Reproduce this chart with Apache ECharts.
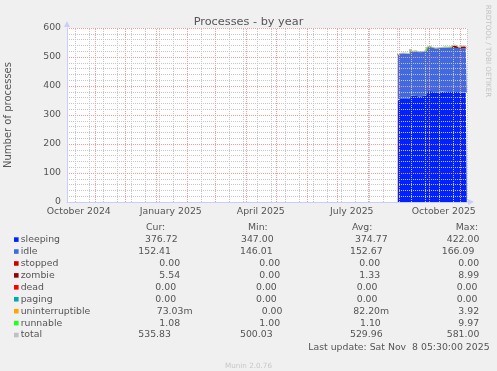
<!DOCTYPE html>
<html><head><meta charset="utf-8">
<script src="https://cdn.jsdelivr.net/npm/echarts@6/dist/echarts.min.js"></script>
<style>html,body{margin:0;padding:0;background:#F0F0F0}#c{width:497px;height:371px}</style>
</head><body><div id="c"></div>
<script>
// ---- data ----
const dates = ['2025-08-31',
 '2025-09-01','2025-09-02','2025-09-03','2025-09-04','2025-09-05','2025-09-06','2025-09-07','2025-09-08','2025-09-09','2025-09-10',
 '2025-09-11','2025-09-12','2025-09-13','2025-09-14','2025-09-15','2025-09-16','2025-09-17','2025-09-18','2025-09-19','2025-09-20',
 '2025-09-21','2025-09-22','2025-09-23','2025-09-24','2025-09-25','2025-09-26','2025-09-27','2025-09-28','2025-09-29','2025-09-30',
 '2025-10-01','2025-10-02','2025-10-03','2025-10-04','2025-10-05','2025-10-06','2025-10-07','2025-10-08','2025-10-09','2025-10-10',
 '2025-10-11','2025-10-12','2025-10-13','2025-10-14','2025-10-15','2025-10-16','2025-10-17','2025-10-18','2025-10-19','2025-10-20',
 '2025-10-21','2025-10-22','2025-10-23','2025-10-24','2025-10-25','2025-10-26','2025-10-27','2025-10-28','2025-10-29','2025-10-30','2025-10-31',
 '2025-11-01','2025-11-02','2025-11-03','2025-11-04','2025-11-05','2025-11-06','2025-11-07','2025-11-08'];
const sleeping = [350,
 355,356,357,355,356,358,357,356,358,357,359,356,
 364,365,366,364,365,367,366,365,364,366,367,365,366,368,366,365,367,
 380,
 382,386,384,381,380,379,378,379,378,377,378,379,380,379,380,381,380,379,380,381,380,381,382,381,380,381,380,379,381,380,379,
 378,380,379,378,380,379,378,377];
const idle = [156,
 155,154,155,156,154,155,156,155,154,155,156,155,
 162,154,153,152,153,154,153,152,153,154,153,152,153,154,153,152,153,
 153,
 152,151,152,153,152,151,152,151,152,153,152,151,152,153,152,151,152,153,152,151,152,153,152,151,152,151,152,153,152,151,152,
 153,152,151,152,153,152,151,152];
const stopped = [0,0,0,0,0,0,0,0,0,0, 0,0,0,0,0,0,0,0,0,0, 0,0,0,0,0,0,0,0,0,0, 0,0,0,0,0,0,0,0,0,0, 0,0,0,0,0,0,0,0,0,0, 0,0,0,0,0,0,0,0,0,0, 0,0,0,0,0,0,0,0,0,0];
const zombie = [0,0,0,0,0,0,0,0,0,0, 0,0,0,0,0,0,0,0,0,0, 0,0,0,0,0,0,0,0,0,0, 0,0,0,0,0,0,0,0,0,0, 0,0,0,0,0,0,0,0,0,0, 0,0,0,0,0,7,8,9,7,6, 7,6,1,6,7,6,7,6,6,5.5];
const dead = [0,0,0,0,0,0,0,0,0,0, 0,0,0,0,0,0,0,0,0,0, 0,0,0,0,0,0,0,0,0,0, 0,0,0,0,0,0,0,0,0,0, 0,0,0,0,0,0,0,0,0,0, 0,0,0,0,0,0,0,0,0,0, 0,0,0,0,0,0,0,0,0,0];
const paging = [0,0,0,0,0,0,0,0,0,0, 0,0,0,0,0,0,0,0,0,0, 0,0,0,0,0,0,0,0,0,0, 0,0,0,0,0,0,0,0,0,0, 0,0,0,0,0,0,0,0,0,0, 0,0,0,0,0,0,0,0,0,0, 0,0,0,0,0,0,0,0,0,0];
const uninterruptible = [0,0,0,0,0,0,0,0,0,0, 0,0,0,0,0,0,0,0,0,0, 2,0,0,0,0,0,0,0,0,0, 0,0,0,0,0,0,0,0,0,0, 0,0,0,0,0,0,0,2,0,0, 0,0,0,0,0,0,0,0,0,0, 1.5,0,0,0,0,0,0,0,0,0];
const runnable = [1,1,1,1,1,2,1,1,1,1, 1,1,1,1,2,1,1,1,1,1, 1,1,2,1,1,1,1,1,1,1, 1,1,1,2,1,1,1,1,1,1, 1,2,1,1,1,1,1,1,1,1, 2,1,1,1,1,1,1,1,2,1, 1,1,1,1,1,1,1,1,1,1];
const total = [507,
 511,511,513,512,512,514,514,512,513,513,516,512,
 527,521,520,517,519,522,520,520,518,522,521,518,520,523,520,518,521,
 534,
 535,538,538,535,533,531,531,531,531,531,532,531,533,533,533,533,535,533,533,534,533,535,535,533,540,541,542,541,540,540.5,538,
 533,539,538,537,541,538,536,535.5];

const seriesNames = ['sleeping','idle','stopped','zombie','dead','paging','uninterruptible','runnable','total'];
const curVals = ['376.72','152.41','0.00','5.54','0.00','0.00','73.03m','1.08','535.83'];
const minVals = ['347.00','146.01','0.00','0.00','0.00','0.00','0.00','1.00','500.03'];
const avgVals = ['374.77','152.67','0.00','1.33','0.00','0.00','82.20m','1.10','529.96'];
const maxVals = ['422.00','166.09','0.00','8.99','0.00','0.00','3.92','9.97','581.00'];
const colHeaders = ['Cur:','Min:','Avg:','Max:'];

const xTickLabels = ['October 2024','January 2025','April 2025','July 2025','October 2025'];
const xTickDates = ['2024-10-16','2025-01-16','2025-04-16','2025-07-16','2025-10-16'];
const monthGridDates = ['2024-11-01','2024-12-01','2025-01-01','2025-02-01','2025-03-01','2025-04-01','2025-05-01',
 '2025-06-01','2025-07-01','2025-08-01','2025-09-01','2025-10-01','2025-11-01'];
const rangeStart = '2024-10-04T05:30:00Z';
const rangeEnd = '2025-11-08T05:30:00Z';
const titleText = 'Processes - by year';
const yName = 'Number of processes';
const lastUpdate = 'Last update: Sat Nov  8 05:30:00 2025';
const version = 'Munin 2.0.76';
const watermark = 'RRDTOOL / TOBI OETIKER';

// ---- styles / layout ----
const colors = ['#0022FF','#4169E1','#CC0000','#990000','#FF0000','#00AAAA','#FFA500','#22FF22','#C0C0C0'];
const FONT = "'DejaVu Sans', sans-serif";
const TXT = '#555555';
const AXIS = '#C8CEF8';
const MGRID = '#F29C9C';
const GRID = '#C6C6C6';
const cellX = [
 [145, 241, 355, 446.7],
 [138.3, 240, 350, 441.7],
 [159.3, 259.3, 359.3, 458.3],
 [159.3, 259.3, 359.3, 458.3],
 [155.3, 256, 356.7, 456.7],
 [155.3, 256, 356.7, 456.7],
 [156.7, 261.7, 353.3, 458.3],
 [159.3, 259.3, 360, 458.3],
 [138.3, 240, 350, 446.7]
];
const headerX = [146, 248, 352, 455.7];

const toTs = d => Date.parse(d.length === 10 ? d + 'T00:00:00Z' : d);
const ts = dates.map(toTs);
const tMin = toTs(rangeStart), tMax = toTs(rangeEnd);
const labelTs = xTickDates.map(toTs);
const monthTs = monthGridDates.map(toTs);
// minor grid lines every two weeks
const minorTs = [];
for (let t = toTs('2024-10-12'); t < tMax; t += 14 * 86400000) minorTs.push(t);
const labelFor = v => {
  let best = 0, bd = Infinity;
  labelTs.forEach((t, i) => { const d = Math.abs(t - v); if (d < bd) { bd = d; best = i; } });
  return bd < 86400000 ? xTickLabels[best] : '';
};

const stackData = [sleeping, idle, stopped, zombie, dead, paging, uninterruptible, runnable];
const series = stackData.map((arr, i) => ({
  name: seriesNames[i], type: 'line', stack: 'procs', step: 'start', symbol: 'none', xAxisIndex: 0,
  data: ts.map((t, j) => [t, arr[j]]),
  lineStyle: { width: 0 }, itemStyle: { color: colors[i] },
  areaStyle: { color: colors[i], opacity: 1 }, z: 2, silent: true
}));
series.push({
  name: 'total', type: 'line', step: 'start', symbol: 'none', xAxisIndex: 0,
  data: ts.map((t, j) => [t, total[j]]),
  lineStyle: { width: 1, color: colors[8] }, itemStyle: { color: colors[8] }, z: 3, silent: true
});

// legend table graphics
const graphic = [];
const rowY = i => 239.6 + 11.93 * i;
const txt = (x, y, s, extra) => Object.assign({ type: 'text', x: x, y: y,
  style: Object.assign({ text: s, fill: TXT, fontSize: 9.33, fontFamily: FONT, align: 'left', verticalAlign: 'middle' }, extra || {}) });
colHeaders.forEach((h, c) => graphic.push(txt(headerX[c], rowY(-1), h)));
const cols = [curVals, minVals, avgVals, maxVals];
seriesNames.forEach((n, i) => {
  const y = rowY(i);
  graphic.push({ type: 'rect', shape: { x: 14, y: y - 2.3, width: 4.6, height: 4.6 }, style: { fill: colors[i] } });
  graphic.push(txt(20.7, y, n));
  cols.forEach((col, c) => graphic.push(txt(cellX[i][c], y, col[i])));
});
graphic.push(txt(308.3, 347.3, lastUpdate));
graphic.push(txt(225, 366.5, version, { fill: '#C8C8C8', fontSize: 7.2 }));
const wm = txt(487.5, 51, watermark, { fill: '#C4C4C4', fontSize: 7.2, align: 'center' });
wm.rotation = -Math.PI / 2;
graphic.push(wm);

const hiddenAxis = { axisLine: { show: false }, axisLabel: { show: false }, splitLine: { show: false }, axisTick: { show: false } };
const chart = echarts.init(document.getElementById('c'), null, { renderer: 'canvas' });
chart.setOption({
  animation: false,
  backgroundColor: '#F0F0F0',
  title: { text: titleText, left: 'center', top: 16.5, padding: 0,
    textStyle: { fontSize: 11.3, fontWeight: 'normal', color: TXT, fontFamily: FONT } },
  grid: { left: 67, top: 28, width: 400, height: 174, show: true, backgroundColor: '#FFFFFF', borderWidth: 0,
    containLabel: false, outerBoundsMode: 'none' },
  xAxis: [
    // data axis (time scale)
    { type: 'time', min: tMin, max: tMax, z: 6,
      axisLine: { show: true, lineStyle: { color: AXIS, width: 1 }, symbol: ['none', 'triangle'], symbolSize: [6, 6], symbolOffset: [0, 4] },
      axisTick: { show: false }, splitLine: { show: false }, axisLabel: { show: false } },
    // month labels
    Object.assign({}, hiddenAxis, { type: 'value', min: tMin, max: tMax, z: 6, position: 'bottom',
      axisLabel: { show: true, customValues: labelTs, formatter: labelFor, color: TXT, fontSize: 9.33, fontFamily: FONT,
        margin: 5, hideOverlap: false, showMinLabel: true, showMaxLabel: true } }),
    // major (month) grid
    Object.assign({}, hiddenAxis, { type: 'value', min: tMin, max: tMax, z: 5, position: 'bottom',
      axisTick: { show: true, inside: true, length: 174, customValues: monthTs, lineStyle: { color: MGRID, type: 'dotted', width: 1 } } }),
    // minor grid
    Object.assign({}, hiddenAxis, { type: 'value', min: tMin, max: tMax, z: 4, position: 'bottom',
      axisTick: { show: true, inside: true, length: 174, customValues: minorTs, lineStyle: { color: GRID, type: 'dotted', width: 1 } } })
  ],
  yAxis: {
    type: 'value', min: 0, max: 600, interval: 100, z: 5,
    axisLine: { show: true, lineStyle: { color: AXIS, width: 1 }, symbol: ['none', 'triangle'], symbolSize: [6, 6], symbolOffset: [0, 4] },
    axisTick: { show: false },
    axisLabel: { color: TXT, fontSize: 9.33, fontFamily: FONT, margin: 6 },
    splitLine: { show: true, lineStyle: { color: MGRID, type: 'dotted', width: 1 } },
    minorTick: { show: false, splitNumber: 5 },
    minorSplitLine: { show: true, lineStyle: { color: GRID, type: 'dotted', width: 1 } },
    name: yName, nameLocation: 'middle', nameGap: 54, nameRotate: 90,
    nameTextStyle: { color: TXT, fontSize: 10, fontFamily: FONT }
  },
  series: series,
  graphic: graphic
});
</script>
</body></html>
